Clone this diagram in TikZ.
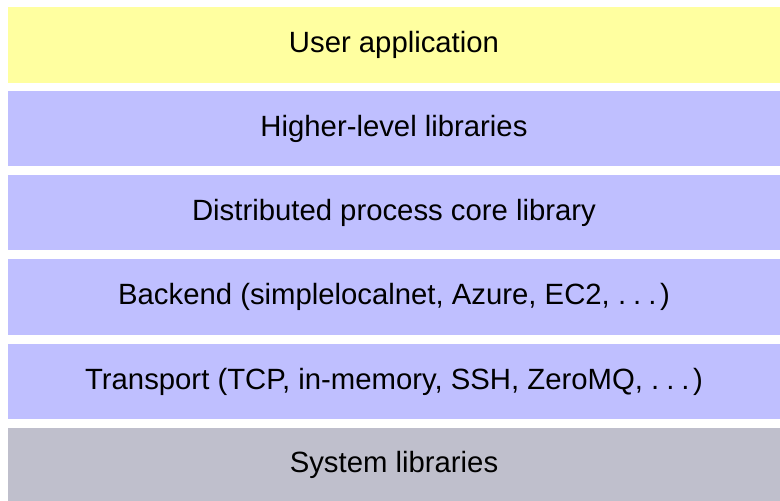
\documentclass[tikz,border=0pt]{standalone}
\usepackage{fontspec}
\setmainfont{Liberation Sans}
\definecolor{layeryellow}{RGB}{255,255,160}
\definecolor{layerblue}{RGB}{191,191,255}
\definecolor{layergray}{RGB}{191,191,204}
\newcommand\spaceddots{.\kern0.24em.\kern0.24em.\kern0.12em}
\begin{document}
\begin{tikzpicture}[x=1pt,y=-1pt,
  layer/.style={draw=none,anchor=center,font=\fontsize{29.3}{34}\selectfont}]
\useasboundingbox (0,0) rectangle (780,501);
\fill[layeryellow] (8,7) rectangle (780,83);
\fill[layerblue] (8,91) rectangle (780,166);
\fill[layerblue] (8,175) rectangle (780,250);
\fill[layerblue] (8,259) rectangle (780,335);
\fill[layerblue] (8,344) rectangle (780,419);
\fill[layergray] (8,428) rectangle (780,501);
\node[layer] (user) at (394,45) {User application};
\node[layer] (higher) at (394,128.5) {Higher-level libraries};
\node[layer] (core) at (394,212.5) {Distributed process core library};
\node[layer] (backend) at (394,297) {Backend (simplelocalnet, Azure, EC2, \spaceddots)};
\node[layer] (transport) at (394,381.5) {Transport (TCP, in-memory, SSH, ZeroMQ, \spaceddots)};
\node[layer] (system) at (394,464.5) {System libraries};
\end{tikzpicture}
\end{document}
